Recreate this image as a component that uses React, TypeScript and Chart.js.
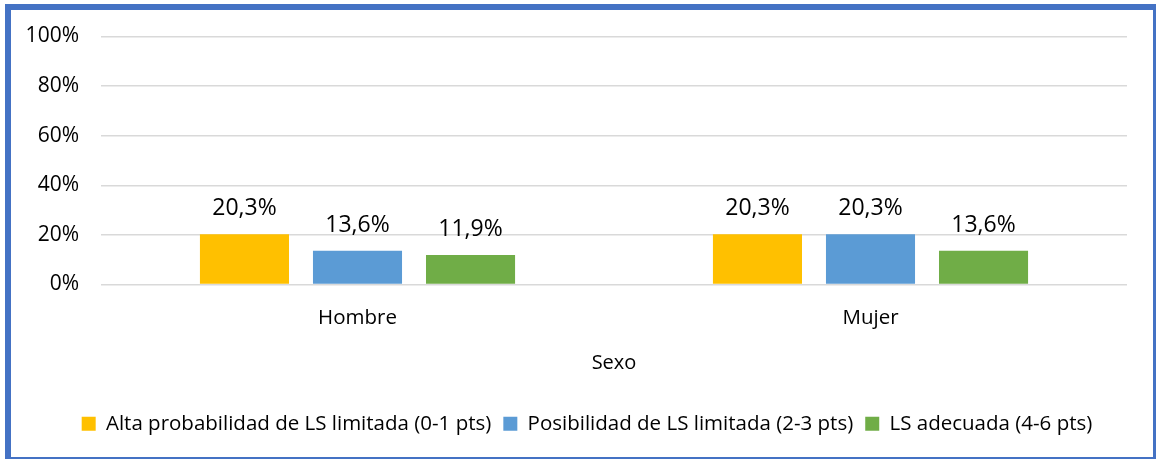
import React, { useEffect, useRef } from "react";
import { Chart, registerables } from "chart.js";

Chart.register(...registerables);

const categories = ["Hombre", "Mujer"];
const seriesLabels = [
  "Alta probabilidad de LS limitada (0-1 pts)",
  "Posibilidad de LS limitada (2-3 pts)",
  "LS adecuada (4-6 pts)",
];
const altaValues = [20.3, 20.3];
const posibilidadValues = [13.6, 20.3];
const adecuadaValues = [11.9, 13.6];
const seriesColors = ["#FFC000", "#5B9BD5", "#70AD47"];
const yTicks = [0, 20, 40, 60, 80, 100];
const xTitle = "Sexo";

const FONT = "'Open Sans', sans-serif";

const dataLabelPlugin = {
  id: "dataLabels",
  afterDatasetsDraw(chart: any) {
    const ctx = chart.ctx;
    ctx.save();
    ctx.font = `23px ${FONT}`;
    ctx.fillStyle = "#000";
    ctx.textAlign = "center";
    ctx.textBaseline = "alphabetic";
    chart.data.datasets.forEach((ds: any, i: number) => {
      const meta = chart.getDatasetMeta(i);
      meta.data.forEach((el: any, j: number) => {
        const v = ds.data[j] as number;
        const txt = v.toFixed(1).replace(".", ",") + "%";
        ctx.fillText(txt, el.x, el.y - 19);
      });
    });
    ctx.restore();
  },
};

const legendShiftPlugin = {
  id: "legendShift",
  afterLayout(chart: any) {
    if (chart.legend) {
      chart.legend.left += 18;
      chart.legend.right += 18;
    }
  },
};

export default function App() {
  const ref = useRef<HTMLCanvasElement | null>(null);
  useEffect(() => {
    if (!ref.current) return;
    Chart.defaults.font.family = FONT;
    Chart.defaults.color = "#000";
    const chart = new Chart(ref.current, {
      type: "bar",
      data: {
        labels: categories,
        datasets: [altaValues, posibilidadValues, adecuadaValues].map((d, i) => ({
          label: seriesLabels[i],
          data: d,
          backgroundColor: seriesColors[i],
          borderWidth: 0,
          categoryPercentage: 0.661,
          barPercentage: 0.788,
        })),
      },
      options: {
        responsive: false,
        animation: false,
        layout: { padding: { top: 26.5, right: 26, bottom: 13, left: 0 } },
        plugins: {
          tooltip: { enabled: false },
          legend: {
            position: "bottom",
            labels: {
              font: { size: 20.5, family: FONT },
              color: "#000",
              boxWidth: 14,
              boxHeight: 14,
              padding: 12,
            },
          },
        },
        scales: {
          x: {
            grid: { display: false, drawTicks: false },
            border: { display: false },
            ticks: { font: { size: 20.5, family: FONT }, color: "#000", padding: 21 },
            title: {
              display: true,
              text: xTitle,
              font: { size: 20, family: FONT },
              color: "#000",
              padding: { top: 0, bottom: 26 },
            },
            afterFit(scale: any) {
              scale.height = 117;
            },
          },
          y: {
            min: 0,
            max: 100,
            grid: { color: "#d9d9d9", lineWidth: 1.5, drawTicks: false },
            border: { display: false },
            ticks: {
              stepSize: 20,
              padding: 22,
              font: { size: 21, family: FONT },
              color: "#000",
              callback: (v: any) => (yTicks.includes(Number(v)) ? `${v}%` : ""),
            },
            afterFit(scale: any) {
              scale.width = 90;
              scale.paddingTop = 0;
              scale.paddingBottom = 0;
            },
          },
        },
      },
      plugins: [dataLabelPlugin, legendShiftPlugin],
    });
    return () => chart.destroy();
  }, []);

  return (
    <div
      style={{
        position: "absolute",
        left: 5,
        top: 4,
        width: 1151,
        height: 455,
        boxSizing: "border-box",
        borderStyle: "solid",
        borderColor: "#4472C4",
        borderWidth: "6px 3px 2px 6px",
        background: "#fff",
      }}
    >
      <canvas ref={ref} width={1142} height={447} style={{ display: "block" }} />
    </div>
  );
}
